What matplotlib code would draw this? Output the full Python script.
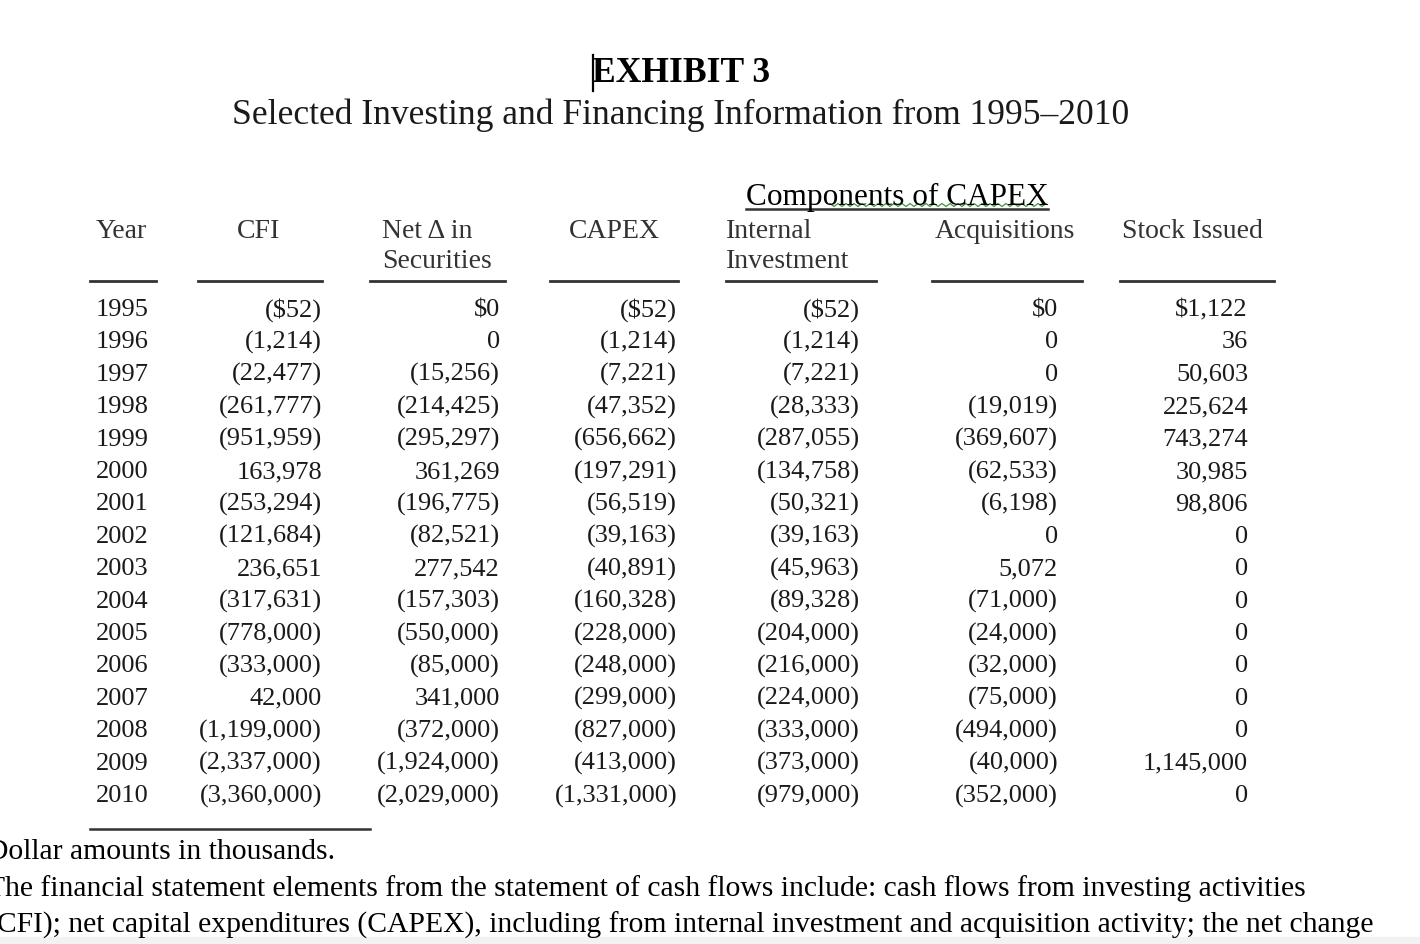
import numpy as np
from matplotlib import pyplot as plt

plt.rcParams["font.family"] = ["Liberation Serif", "DejaVu Serif"]

# ---- table data (thousands of dollars) ----
years = ["1995", "1996", "1997", "1998", "1999", "2000", "2001", "2002",
         "2003", "2004", "2005", "2006", "2007", "2008", "2009", "2010"]
cfi = ["($52)", "(1,214)", "(22,477)", "(261,777)", "(951,959)", "163,978",
       "(253,294)", "(121,684)", "236,651", "(317,631)", "(778,000)", "(333,000)",
       "42,000", "(1,199,000)", "(2,337,000)", "(3,360,000)"]
net_sec = ["$0", "0", "(15,256)", "(214,425)", "(295,297)", "361,269",
           "(196,775)", "(82,521)", "277,542", "(157,303)", "(550,000)", "(85,000)",
           "341,000", "(372,000)", "(1,924,000)", "(2,029,000)"]
capex = ["($52)", "(1,214)", "(7,221)", "(47,352)", "(656,662)", "(197,291)",
         "(56,519)", "(39,163)", "(40,891)", "(160,328)", "(228,000)", "(248,000)",
         "(299,000)", "(827,000)", "(413,000)", "(1,331,000)"]
internal = ["($52)", "(1,214)", "(7,221)", "(28,333)", "(287,055)", "(134,758)",
            "(50,321)", "(39,163)", "(45,963)", "(89,328)", "(204,000)", "(216,000)",
            "(224,000)", "(333,000)", "(373,000)", "(979,000)"]
acquisitions = ["$0", "0", "0", "(19,019)", "(369,607)", "(62,533)", "(6,198)", "0",
                "5,072", "(71,000)", "(24,000)", "(32,000)", "(75,000)", "(494,000)",
                "(40,000)", "(352,000)"]
stock = ["$1,122", "36", "50,603", "225,624", "743,274", "30,985", "98,806", "0",
         "0", "0", "0", "0", "0", "0", "1,145,000", "0"]

footnotes = [
    "Dollar amounts in thousands.",
    "The financial statement elements from the statement of cash flows include: cash flows from investing activities",
    "(CFI); net capital expenditures (CAPEX), including from internal investment and acquisition activity; the net change",
]

# ---- layout (pixel space) ----
fig = plt.figure(figsize=(14.2, 9.44), dpi=100)
ax = fig.add_axes([0, 0, 1, 1])
ax.set_xlim(0, 1420)
ax.set_ylim(944, 0)
ax.axis("off")

txt = "#1a1a1a"
hdr = "#333333"
fs = 19
hfs = 20

# titles
ax.text(681, 74, "EXHIBIT 3", ha="center", va="center", fontsize=25.6,
        fontweight="bold", color="black")
ax.plot([593, 593], [55, 91], color="black", lw=1.6)
ax.text(681, 115, "Selected Investing and Financing Information from 1995\u20132010",
        ha="center", va="center", fontsize=25.6, color=txt)

# group header
ax.text(897, 197, "Components of CAPEX", ha="center", va="center",
        fontsize=22.5, color="black")
ax.plot([746, 1048], [209, 209], color="#333333", lw=1.8)
zx = np.arange(830, 1049, 4)
zy = 205 + np.where(np.arange(len(zx)) % 2 == 0, -1.5, 1.5)
ax.plot(zx, zy, color="#3a9a3a", lw=0.9)

# column headers
ax.text(96, 232, "Year", ha="left", va="center", fontsize=hfs, color=hdr)
ax.text(259, 232, "CFI", ha="center", va="center", fontsize=hfs, color=hdr)
ax.text(382, 232, "Net \u0394 in", ha="left", va="center", fontsize=hfs, color=hdr)
ax.text(382, 262, "Securities", ha="left", va="center", fontsize=hfs, color=hdr)
ax.text(614, 232, "CAPEX", ha="center", va="center", fontsize=hfs, color=hdr)
ax.text(726, 232, "Internal", ha="left", va="center", fontsize=hfs, color=hdr)
ax.text(726, 262, "Investment", ha="left", va="center", fontsize=hfs, color=hdr)
ax.text(935, 232, "Acquisitions", ha="left", va="center", fontsize=hfs, color=hdr)
ax.text(1122, 232, "Stock Issued", ha="left", va="center", fontsize=hfs, color=hdr)

# header underlines
for x0, x1 in [(90, 156), (198, 322), (370, 505), (550, 678),
               (726, 876), (932, 1082), (1120, 1274)]:
    ax.plot([x0, x1], [281, 281], color="#333333", lw=2)

# table body
row_y0, row_dy = 310, 32.4
cols = [(cfi, 322), (net_sec, 500), (capex, 677), (internal, 860),
        (acquisitions, 1058), (stock, 1248)]
for i, yr in enumerate(years):
    y = row_y0 + i * row_dy
    ax.text(96, y, yr, ha="left", va="center", fontsize=fs, color=txt)
    for vals, xr in cols:
        ax.text(xr, y, vals[i], ha="right", va="center", fontsize=fs, color=txt)

# bottom rule and notes (cut at the left edge, as in the original screenshot)
ax.plot([90, 370], [829, 829], color="#333333", lw=1.8)
for j, line in enumerate(footnotes):
    ax.text(-13, 852 + j * 36.5, line, ha="left", va="center", fontsize=21.3,
            color="black")

ax.axhspan(937, 944, color="#f2f2f2", zorder=0)

fig.savefig("out.png", dpi=100)
plt.close()
